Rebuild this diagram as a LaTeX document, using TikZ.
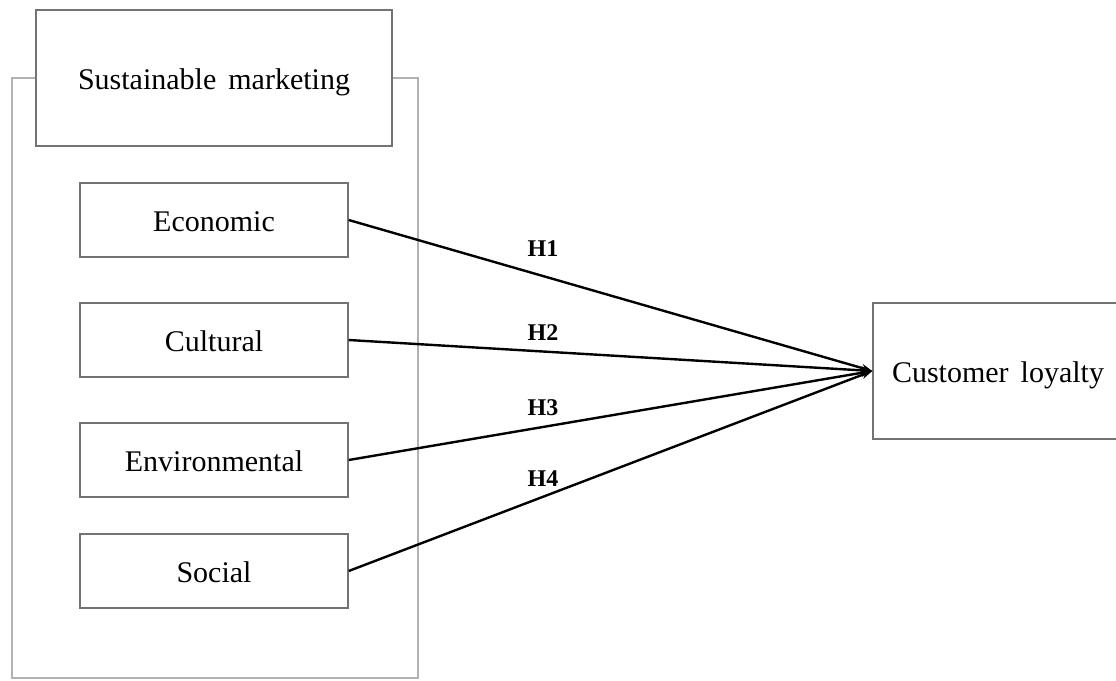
\documentclass[tikz,border=0pt]{standalone}
\usepackage{fontspec}
\setmainfont[WordSpace=1.6]{Liberation Serif}
\usetikzlibrary{arrows.meta}
\begin{document}
\begin{tikzpicture}[x=1pt,y=-1pt,
  dimbox/.style={draw=black!55, line width=1.4pt, fill=white,
    minimum width=268pt, minimum height=74pt, inner sep=0pt,
    text height=24pt, text depth=2pt,
    font=\fontsize{30}{35}\selectfont},
  link/.style={line width=2.4pt, -{Stealth[length=11pt,width=8pt]}},
  hyp/.style={font=\fontsize{24}{28}\selectfont\bfseries, inner sep=0pt}]
\useasboundingbox (0,0) rectangle (1116,680);

% frame grouping the dimensions of sustainable marketing
\draw[black!30, line width=2.4pt] (12,78) rectangle (418,678);
\node[dimbox, minimum width=356pt, minimum height=136pt] (sm) at (214,78) {Sustainable marketing};

% dimensions
\node[dimbox] (eco) at (214,220) {Economic};
\node[dimbox] (cul) at (214,340) {Cultural};
\node[dimbox] (env) at (214,460) {Environmental};
\node[dimbox] (soc) at (214,571) {Social};

% outcome
\node[dimbox, minimum width=250pt, minimum height=136pt] (cl) at (998,371) {Customer loyalty};

% hypothesised paths
\draw[link] (eco.east) -- (cl.west);
\draw[link] (cul.east) -- (cl.west);
\draw[link] (env.east) -- (cl.west);
\draw[link] (soc.east) -- (cl.west);

\node[hyp] (h1) at (543,249) {H1};
\node[hyp] (h2) at (543,333) {H2};
\node[hyp] (h3) at (543,408) {H3};
\node[hyp] (h4) at (543,479) {H4};
\end{tikzpicture}
\end{document}
